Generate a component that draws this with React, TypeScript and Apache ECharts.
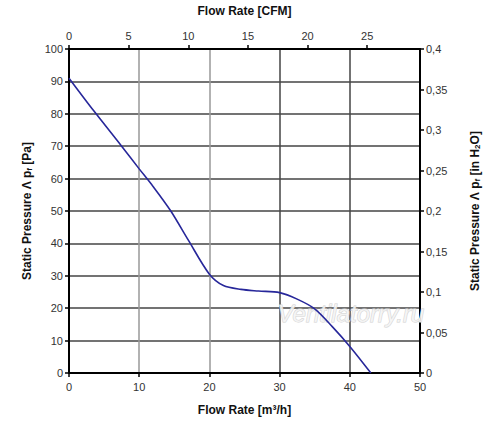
import React, { useEffect, useRef } from "react";
import * as echarts from "echarts";

const flowM3h: number[] = [0, 3.5, 7.5, 10, 12, 14.5, 17, 20, 22, 24.5, 27, 30, 32.5, 35, 37.5, 40, 43];
const pressurePa: number[] = [91, 81, 70, 63, 57.5, 50, 41, 30.5, 27, 25.8, 25.3, 24.8, 22.8, 19.8, 14.3, 8.2, 0];

const bottomMax = 50;
const cfmPerM3h = 1 / 1.699;
const rightMax = 0.4;

const FONT = "'Liberation Sans', Arial, sans-serif";

export default function App() {
  const ref = useRef<HTMLDivElement>(null);
  useEffect(() => {
    document.body.style.margin = "0";
    if (!ref.current) return;
    const chart = echarts.init(ref.current, undefined, { renderer: "svg" });
    const labelStyle = { color: "#333", fontSize: 11, fontFamily: FONT };
    const nameStyle = { color: "#111", fontSize: 12, fontWeight: "bold" as const, fontFamily: FONT };
    const richName = {
      a: { color: "#111", fontSize: 12, fontWeight: "bold", fontFamily: FONT },
      s: { color: "#111", fontSize: 8, fontWeight: "bold", fontFamily: FONT, verticalAlign: "bottom", padding: [5, 0, 0, 0] },
    };
    const axisLine = { show: true, onZero: false, lineStyle: { color: "#000", width: 2 } };
    const axisTick = { show: true, inside: false, length: 4, lineStyle: { color: "#000", width: 1.5 } };
    chart.setOption({
      animation: false,
      backgroundColor: "#fff",
      grid: { left: 69, right: 80, top: 47, bottom: 44, containLabel: false },
      xAxis: [
        {
          type: "value",
          position: "bottom",
          min: 0,
          max: bottomMax,
          interval: 10,
          axisLine,
          axisTick,
          axisLabel: { ...labelStyle, margin: 8 },
          splitLine: { show: true, lineStyle: { color: ["#000", "#999", "#999", "#444", "#444", "#000"], width: 1.5 } },
          name: "Flow Rate [m³/h]",
          nameLocation: "middle",
          nameGap: 31,
          nameTextStyle: nameStyle,
        },
        {
          type: "value",
          position: "top",
          min: 0,
          max: bottomMax * cfmPerM3h,
          interval: 5,
          axisLine,
          axisTick,
          axisLabel: { ...labelStyle, margin: 8, showMaxLabel: false },
          splitLine: { show: false },
          name: "Flow Rate [CFM]",
          nameLocation: "middle",
          nameGap: 32,
          nameTextStyle: nameStyle,
        },
      ],
      yAxis: [
        {
          type: "value",
          position: "left",
          min: 0,
          max: 100,
          interval: 10,
          axisLine,
          axisTick,
          axisLabel: { ...labelStyle, margin: 6 },
          splitLine: { show: true, lineStyle: { color: "#444", width: 1.5 } },
          name: "{a|Static Pressure Λ p}{s|f}{a| [Pa]}",
          nameLocation: "middle",
          nameGap: 36,
          nameRotate: 90,
          nameTextStyle: { rich: richName },
        },
        {
          type: "value",
          position: "right",
          min: 0,
          max: rightMax,
          interval: 0.05,
          axisLine,
          axisTick,
          axisLabel: {
            ...labelStyle,
            margin: 6,
            formatter: (v: number) => (v === 0 ? "0" : String(+v.toFixed(2)).replace(".", ",")),
          },
          splitLine: { show: false },
          name: "{a|Static Pressure Λ p}{s|f}{a| [in H}{s|2}{a|O]}",
          nameLocation: "middle",
          nameGap: 48,
          nameRotate: 90,
          nameTextStyle: { rich: richName },
        },
      ],
      graphic: [
        {
          type: "text",
          left: 277,
          top: 301,
          silent: true,
          z: 1,
          style: {
            text: "Ventilatorry.ru",
            fill: "rgba(246,246,246,0.85)",
            stroke: "#d2d2d2",
            lineWidth: 1,
            font: "italic 24px 'Liberation Sans', Arial, sans-serif",
          },
        },
      ],
      series: [
        {
          type: "line",
          xAxisIndex: 0,
          yAxisIndex: 0,
          data: flowM3h.map((x, i) => [x, pressurePa[i]]),
          smooth: 0.3,
          showSymbol: false,
          lineStyle: { color: "#27279a", width: 1.6 },
          z: 5,
        },
      ],
    });
    return () => chart.dispose();
  }, []);
  return <div ref={ref} style={{ width: 500, height: 421 }} />;
}
